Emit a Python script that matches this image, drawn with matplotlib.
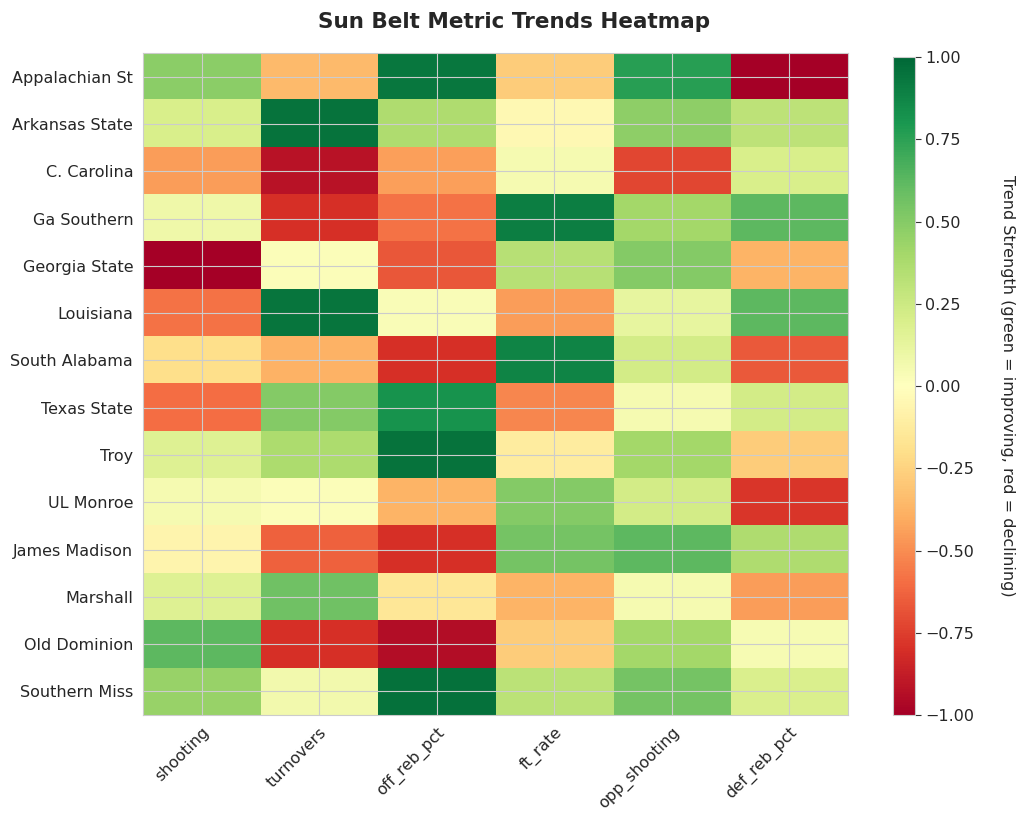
import numpy as np
import matplotlib.pyplot as plt
import seaborn as sns

sns.set_style('whitegrid')
plt.rcParams['font.family'] = ['DejaVu Sans']

# teams and metrics
teams = ['Appalachian St', 'Arkansas State', 'C. Carolina', 'Ga Southern', 'Georgia State',
         'Louisiana', 'South Alabama', 'Texas State', 'Troy', 'UL Monroe',
         'James Madison', 'Marshall', 'Old Dominion', 'Southern Miss']
metrics = ['shooting', 'turnovers', 'off_reb_pct', 'ft_rate', 'opp_shooting', 'def_reb_pct']

# trend strength per team, one list per metric
shooting     = [0.48, 0.20, -0.45, 0.08, -1.00, -0.58, -0.20, -0.60, 0.17, 0.05, -0.07, 0.17, 0.62, 0.44]
turnovers    = [-0.35, 0.95, -0.92, -0.80, 0.02, 0.94, -0.38, 0.50, 0.37, 0.02, -0.64, 0.57, -0.80, 0.07]
off_reb_pct  = [0.93, 0.36, -0.44, -0.58, -0.67, 0.03, -0.80, 0.82, 0.95, -0.37, -0.80, -0.15, -0.94, 0.96]
ft_rate      = [-0.28, -0.04, 0.05, 0.90, 0.33, -0.45, 0.88, -0.52, -0.12, 0.50, 0.55, -0.37, -0.28, 0.32]
opp_shooting = [0.76, 0.47, -0.72, 0.40, 0.50, 0.12, 0.22, 0.05, 0.40, 0.22, 0.62, 0.05, 0.40, 0.55]
def_reb_pct  = [-1.00, 0.31, 0.20, 0.62, -0.37, 0.62, -0.66, 0.22, -0.28, -0.78, 0.36, -0.45, 0.04, 0.19]

data = np.array([shooting, turnovers, off_reb_pct, ft_rate, opp_shooting, def_reb_pct]).T

fig = plt.figure(figsize=(10.24, 8.23), dpi=100)
ax = fig.add_axes([0.1396, 0.1312, 0.6885, 0.8044])
cax = fig.add_axes([0.872, 0.1312, 0.0215, 0.7995])

im = ax.imshow(data, cmap='RdYlGn', vmin=-1, vmax=1, aspect='auto')
ax.set_xticks(range(len(metrics)))
ax.set_xticklabels(metrics, rotation=45, ha='right', rotation_mode='anchor', fontsize=11.5)
ax.set_yticks(range(len(teams)))
ax.set_yticklabels(teams, fontsize=11.5)
fig.suptitle('Sun Belt Metric Trends Heatmap', fontsize=15.5, fontweight='bold', x=0.502, y=0.986)

cbar = fig.colorbar(im, cax=cax)
cbar.set_label('Trend Strength (green = improving, red = declining)', rotation=270, labelpad=29, fontsize=11.5)
cbar.ax.tick_params(labelsize=11.5, length=4, width=0.8, color='#333333')
cbar.outline.set_edgecolor('#cccccc')

plt.savefig('out.png', dpi=100)
